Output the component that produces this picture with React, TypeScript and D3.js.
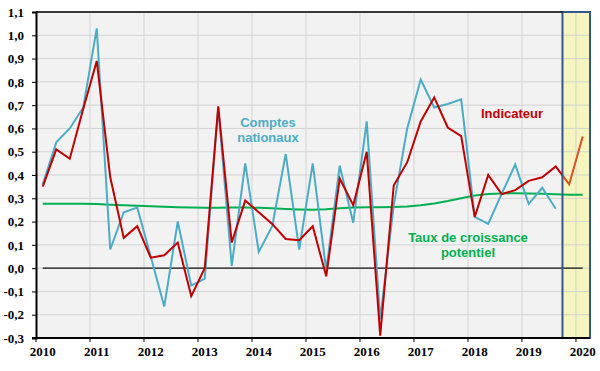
import React, { useRef, useEffect } from "react";
import * as d3 from "d3";

// quarterly series, 2010T1 .. 2020T1
const years = [2010, 2011, 2012, 2013, 2014, 2015, 2016, 2017, 2018, 2019, 2020];
const quarters = years.flatMap(y => [1, 2, 3, 4].map(q => ({ year: y, q }))).slice(0, 41);

const comptes = [
  0.36, 0.54, 0.6, 0.69,
  1.03, 0.08, 0.24, 0.26,
  0.05, -0.165, 0.2, -0.075,
  -0.045, 0.69, 0.01, 0.45,
  0.07, 0.18, 0.49, 0.08,
  0.45, -0.01, 0.44, 0.195,
  0.63, -0.22, 0.27, 0.6,
  0.81, 0.69, 0.705, 0.725,
  0.22, 0.19, 0.32, 0.445,
  0.275, 0.345, 0.255,
];

const indicateur = [
  0.35, 0.51, 0.47, 0.685,
  0.89, 0.39, 0.13, 0.18,
  0.045, 0.055, 0.11, -0.12,
  0.0, 0.695, 0.11, 0.29,
  0.24, 0.19, 0.125, 0.12,
  0.18, -0.035, 0.385, 0.27,
  0.5, -0.29, 0.355, 0.455,
  0.63, 0.733, 0.604, 0.567,
  0.22, 0.4, 0.318, 0.335,
  0.375, 0.39, 0.437, 0.36,
  0.565,
];

const potentiel = [
  0.277, 0.277, 0.277, 0.277,
  0.275, 0.272, 0.27, 0.268,
  0.266, 0.264, 0.262, 0.26,
  0.259, 0.259, 0.26, 0.26,
  0.259, 0.257, 0.254, 0.252,
  0.251, 0.253, 0.257, 0.26,
  0.262, 0.262, 0.263, 0.265,
  0.27, 0.278, 0.288, 0.3,
  0.312, 0.318, 0.321, 0.322,
  0.321, 0.319, 0.317, 0.315,
  0.315,
];

const yTicks = [-0.3, -0.2, -0.1, 0, 0.1, 0.2, 0.3, 0.4, 0.5, 0.6, 0.7, 0.8, 0.9, 1.0, 1.1];
const forecastStart = 2019.75;

export default function App() {
  const ref = useRef<SVGSVGElement>(null);

  useEffect(() => {
    document.body.style.margin = "0";
    const width = 600;
    const height = 371;
    const left = 36, right = 590, top = 12, bottom = 338;

    const svg = d3.select(ref.current);
    svg.selectAll("*").remove();
    svg.attr("width", width).attr("height", height);

    const t = (i: number) => quarters[i].year + (quarters[i].q - 0.5) / 4;

    const x = d3.scaleLinear().domain([2010, 2020.26]).range([left, right]);
    const y = d3.scaleLinear().domain([-0.3, 1.1]).range([bottom, top]);

    svg.append("rect").attr("width", width).attr("height", height).attr("fill", "#fff");

    // plot background
    svg.append("rect")
      .attr("x", left).attr("y", top)
      .attr("width", right - left).attr("height", bottom - top)
      .attr("fill", "#f2f2f2");

    // forecast band
    svg.append("rect")
      .attr("x", x(forecastStart)).attr("y", top)
      .attr("width", right - x(forecastStart)).attr("height", bottom - top)
      .attr("fill", "#f6f5bf");

    // grid
    const g = svg.append("g");
    g.selectAll(".hg").data(yTicks).enter().append("line")
      .attr("x1", left).attr("x2", right)
      .attr("y1", d => y(d)).attr("y2", d => y(d))
      .attr("stroke", "#d3d3d3").attr("stroke-width", 1);
    g.selectAll(".vg").data(years.slice(1)).enter().append("line")
      .attr("x1", d => x(d)).attr("x2", d => x(d))
      .attr("y1", top).attr("y2", bottom)
      .attr("stroke", "#d3d3d3").attr("stroke-width", 1);

    // zero line
    g.append("line")
      .attr("x1", x(t(0))).attr("x2", x(t(40)))
      .attr("y1", y(0)).attr("y2", y(0))
      .attr("stroke", "#111").attr("stroke-width", 1.3);

    const line = d3.line<number>().x((d, i) => x(t(i))).y(d => y(d));

    g.append("path").datum(potentiel).attr("d", line)
      .attr("fill", "none").attr("stroke", "#00b050").attr("stroke-width", 2);

    g.append("path").datum(comptes).attr("d", line)
      .attr("fill", "none").attr("stroke", "#4bacc6").attr("stroke-width", 2);

    // indicator: red before band, orange inside it
    const defs = svg.append("defs");
    defs.append("clipPath").attr("id", "before")
      .append("rect").attr("x", 0).attr("y", 0).attr("width", x(forecastStart)).attr("height", height);
    defs.append("clipPath").attr("id", "after")
      .append("rect").attr("x", x(forecastStart)).attr("y", 0).attr("width", width).attr("height", height);

    g.append("path").datum(indicateur).attr("d", line)
      .attr("fill", "none").attr("stroke", "#c00000").attr("stroke-width", 2)
      .attr("clip-path", "url(#before)");
    g.append("path").datum(indicateur).attr("d", line)
      .attr("fill", "none").attr("stroke", "#dc4f1e").attr("stroke-width", 2)
      .attr("clip-path", "url(#after)");

    // band border
    svg.append("rect")
      .attr("x", x(forecastStart)).attr("y", top)
      .attr("width", right - x(forecastStart)).attr("height", bottom - top)
      .attr("fill", "none").attr("stroke", "#35578a").attr("stroke-width", 2);

    // frame top
    svg.append("line").attr("x1", left).attr("x2", x(forecastStart))
      .attr("y1", top).attr("y2", top).attr("stroke", "#000").attr("stroke-width", 1.5);

    // axes
    const fmt = (d: number) => d3.format(".1f")(d).replace(".", ",").replace("−", "-");
    const yAxis = svg.append("g")
      .attr("transform", `translate(${left},0)`)
      .call(d3.axisLeft(y).tickValues(yTicks).tickFormat(fmt as any).tickSize(4).tickPadding(8));
    yAxis.select(".domain").attr("stroke", "#000").attr("stroke-width", 2);
    yAxis.selectAll("line").attr("stroke", "#000");
    yAxis.selectAll("text")
      .style("font-family", "'Liberation Serif', 'Times New Roman', serif")
      .style("font-weight", "bold").style("font-size", "13px").attr("fill", "#000");

    const xAxis = svg.append("g").attr("transform", `translate(0,${bottom})`);
    xAxis.append("line").attr("x1", left - 4).attr("x2", right)
      .attr("stroke", "#000").attr("stroke-width", 2);
    xAxis.selectAll(".tk").data(years).enter().append("line")
      .attr("x1", d => x(d)).attr("x2", d => x(d)).attr("y1", 0).attr("y2", 4)
      .attr("stroke", "#000");
    xAxis.selectAll(".lb").data(years).enter().append("text")
      .attr("x", d => x(d + 0.125)).attr("y", 18)
      .attr("text-anchor", "middle")
      .style("font-family", "'Liberation Serif', 'Times New Roman', serif")
      .style("font-weight", "bold").style("font-size", "13px")
      .text(d => d);

    // annotations
    const ann = (txt: string[], cx: number, cy: number, color: string) => {
      txt.forEach((s, k) => {
        svg.append("text").attr("x", cx).attr("y", cy + k * 15)
          .attr("text-anchor", "middle").attr("fill", color)
          .style("font-family", "'Liberation Sans', Arial, sans-serif")
          .style("font-weight", "bold").style("font-size", "13px")
          .text(s);
      });
    };
    ann(["Comptes", "nationaux"], 268, 127, "#4bacc6");
    ann(["Indicateur"], 512, 118, "#c00000");
    ann(["Taux de croissance", "potentiel"], 468, 242, "#00b050");
  }, []);

  return <svg ref={ref}></svg>;
}
